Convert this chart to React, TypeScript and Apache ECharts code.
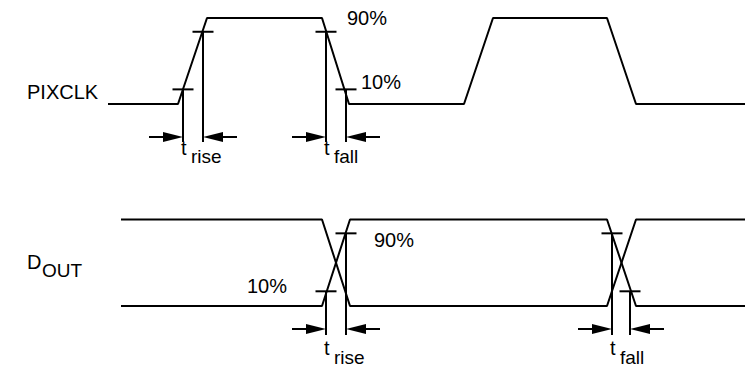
import React, { useEffect, useRef } from "react";
import * as echarts from "echarts";

// Waveform data (time units along the x axis, logic level 0..1)
const pixclkTimes = [108, 178, 207, 322, 349, 464, 493, 607, 636, 745];
const pixclkLevels = [0, 0, 1, 1, 0, 0, 1, 1, 0, 0];
const doutTimes = [121, 322, 350, 607, 636, 745];
const doutLevelsA = [1, 1, 0, 0, 1, 1];
const doutLevelsB = [0, 0, 1, 1, 0, 0];

// Threshold levels as drawn (10% / 90% marks)
const lowThreshold = 0.17;
const highThreshold = 0.84;

// Measurements: start/end time of the threshold crossings
const pixclkMeasureNames = ["rise", "fall"];
const pixclkMeasureStart = [183, 326];
const pixclkMeasureEnd = [203, 346];
const pixclkStartLevel = [lowThreshold, highThreshold];
const pixclkEndLevel = [highThreshold, lowThreshold];

const doutMeasureNames = ["rise", "fall"];
const doutMeasureStart = [326, 612];
const doutMeasureEnd = [346, 630];
const doutStartLevel = [lowThreshold, highThreshold];
const doutEndLevel = [highThreshold, lowThreshold];

const FONT = '"Liberation Sans", Arial, Helvetica, sans-serif';
const INK = "#000000";

function zip(a: number[], b: number[]) {
  return a.map((v, i) => [v, b[i]]);
}

function makeRender(
  names: string[],
  arrowGap: number,
  vertExtra: number,
  tMid: number,
  subMid: number
) {
  return (params: any, api: any) => {
    const i = params.dataIndex;
    const p1 = api.coord([api.value(0), api.value(1)]);
    const p2 = api.coord([api.value(2), api.value(3)]);
    const base = api.coord([api.value(0), 0]);
    const ay = base[1] + arrowGap;
    const vEnd = ay + vertExtra;
    const lw = 2;
    const ls = { stroke: INK, lineWidth: lw, fill: null };
    const x1 = p1[0];
    const x2 = p2[0];
    const children: any[] = [
      { type: "line", shape: { x1: x1 - 10.5, y1: p1[1], x2: x1 + 10.5, y2: p1[1] }, style: ls },
      { type: "line", shape: { x1: x1, y1: p1[1], x2: x1, y2: vEnd }, style: ls },
      { type: "line", shape: { x1: x2 - 10.5, y1: p2[1], x2: x2 + 10.5, y2: p2[1] }, style: ls },
      { type: "line", shape: { x1: x2, y1: p2[1], x2: x2, y2: vEnd }, style: ls },
      { type: "line", shape: { x1: x1 - 34, y1: ay, x2: x1 - 18, y2: ay }, style: ls },
      {
        type: "polygon",
        shape: { points: [[x1, ay], [x1 - 20, ay - 5], [x1 - 20, ay + 5]] },
        style: { fill: INK },
      },
      { type: "line", shape: { x1: x2 + 18, y1: ay, x2: x2 + 34, y2: ay }, style: ls },
      {
        type: "polygon",
        shape: { points: [[x2, ay], [x2 + 20, ay - 5], [x2 + 20, ay + 5]] },
        style: { fill: INK },
      },
      {
        type: "text",
        x: x1 - 2,
        y: ay + tMid,
        style: {
          text: "t",
          fill: INK,
          font: `20px ${FONT}`,
          align: "left",
          verticalAlign: "middle",
        },
      },
      {
        type: "text",
        x: x1 + 8,
        y: ay + subMid,
        style: {
          text: names[i],
          fill: INK,
          font: `19px ${FONT}`,
          align: "left",
          verticalAlign: "middle",
        },
      },
    ];
    return { type: "group", children };
  };
}

function textEl(text: string, x: number, y: number, size: number) {
  return {
    type: "text",
    x,
    y,
    style: {
      text,
      fill: INK,
      font: `${size}px ${FONT}`,
      align: "left",
      verticalAlign: "middle",
    },
  };
}

export default function App() {
  const ref = useRef<HTMLDivElement>(null);
  useEffect(() => {
    if (!ref.current) return;
    const chart = echarts.init(ref.current, undefined, { renderer: "svg" });
    const axisX = (gridIndex: number) => ({
      type: "value" as const,
      gridIndex,
      min: 0,
      max: 745,
      show: false,
    });
    const axisY = (gridIndex: number) => ({
      type: "value" as const,
      gridIndex,
      min: 0,
      max: 1,
      show: false,
    });
    const lineSeries = (name: string, data: number[][], idx: number) => ({
      type: "line" as const,
      name,
      xAxisIndex: idx,
      yAxisIndex: idx,
      data,
      symbol: "none",
      silent: true,
      lineStyle: { color: INK, width: 2 },
      clip: false,
    });
    chart.setOption({
      animation: false,
      backgroundColor: "#ffffff",
      grid: [
        { left: 0, right: 0, top: 18, height: 86 },
        { left: 0, right: 0, top: 219.5, height: 86.5 },
      ],
      xAxis: [axisX(0), axisX(1)],
      yAxis: [axisY(0), axisY(1)],
      series: [
        lineSeries("PIXCLK", zip(pixclkTimes, pixclkLevels), 0),
        lineSeries("DOUT_A", zip(doutTimes, doutLevelsA), 1),
        lineSeries("DOUT_B", zip(doutTimes, doutLevelsB), 1),
        {
          type: "custom",
          name: "pixclk-measure",
          xAxisIndex: 0,
          yAxisIndex: 0,
          silent: true,
          clip: false,
          renderItem: makeRender(pixclkMeasureNames, 33, 5, 11, 19.5),
          data: pixclkMeasureStart.map((s, i) => [
            s,
            pixclkStartLevel[i],
            pixclkMeasureEnd[i],
            pixclkEndLevel[i],
          ]),
        },
        {
          type: "custom",
          name: "dout-measure",
          xAxisIndex: 1,
          yAxisIndex: 1,
          silent: true,
          clip: false,
          renderItem: makeRender(doutMeasureNames, 23, 6, 19, 28),
          data: doutMeasureStart.map((s, i) => [
            s,
            doutStartLevel[i],
            doutMeasureEnd[i],
            doutEndLevel[i],
          ]),
        },
      ],
      graphic: [
        textEl("90%", 347, 18, 20),
        textEl("10%", 361, 82, 20),
        textEl("90%", 374, 240, 20),
        textEl("10%", 247, 286, 20),
        textEl("PIXCLK", 27, 92, 20),
        textEl("D", 27, 262, 20),
        textEl("OUT", 42, 270, 19),
      ],
    });
    return () => chart.dispose();
  }, []);
  return (
    <div
      ref={ref}
      style={{ position: "absolute", left: 0, top: 0, width: 745, height: 366 }}
    />
  );
}
